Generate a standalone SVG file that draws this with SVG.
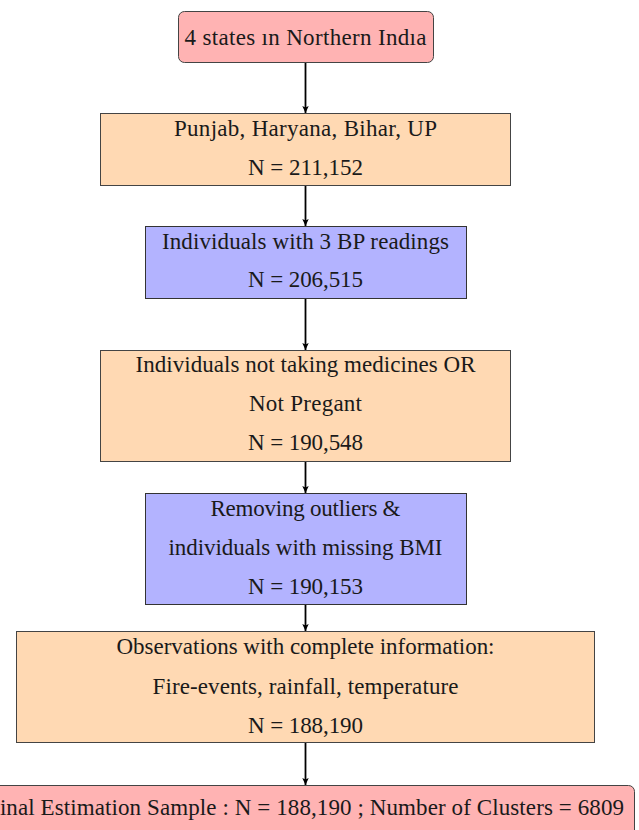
<svg xmlns="http://www.w3.org/2000/svg" width="639" height="830" viewBox="0 0 639 830">
<defs>
<marker id="arr" markerWidth="8" markerHeight="8" refX="7" refY="4" orient="auto" markerUnits="userSpaceOnUse">
<path d="M0,0.8 L7,4 L0,7.2 L1.5,4 z" fill="#000"/>
</marker>
<style>
.t{font-size:23px;fill:#1a1a1a;text-anchor:middle}
.pink{fill:#FFB3B3;stroke:#444;stroke-width:1}
.peach{fill:#FFD9B3;stroke:#444;stroke-width:1}
.blue{fill:#B3B3FF;stroke:#333;stroke-width:1}
.c{stroke:#000;stroke-width:1.8;fill:none;marker-end:url(#arr)}
</style>
</defs>
<rect width="639" height="830" fill="#fff"/>
<g id="connectors">
<line class="c" x1="305.5" y1="62" x2="305.5" y2="113"/>
<line class="c" x1="305.5" y1="185" x2="305.5" y2="226"/>
<line class="c" x1="305.5" y1="298" x2="305.5" y2="350"/>
<line class="c" x1="305.5" y1="461" x2="305.5" y2="493"/>
<line class="c" x1="305.5" y1="604" x2="305.5" y2="631"/>
<line class="c" x1="305.5" y1="743" x2="305.5" y2="785"/>
</g>
<g font-family="Liberation Serif">
<g id="n1">
<rect class="pink" x="178.5" y="11.5" width="255" height="51" rx="6"/>
<text class="t" x="305.5" y="45" textLength="242" lengthAdjust="spacing">4 states ın Northern Indıa</text>
</g>
<g id="n2">
<rect class="peach" x="100.5" y="113.5" width="410" height="72"/>
<text class="t" x="305.5" y="136" textLength="263" lengthAdjust="spacing">Punjab, Haryana, Bihar, UP</text>
<text class="t" x="305.5" y="175" textLength="115" lengthAdjust="spacing">N = 211,152</text>
</g>
<g id="n3">
<rect class="blue" x="145.5" y="226.5" width="321" height="72"/>
<text class="t" x="305.5" y="248.5" textLength="287" lengthAdjust="spacing">Individuals with 3 BP readings</text>
<text class="t" x="305.5" y="287" textLength="115" lengthAdjust="spacing">N = 206,515</text>
</g>
<g id="n4">
<rect class="peach" x="100.5" y="350.5" width="410" height="111"/>
<text class="t" x="305.5" y="372" textLength="340" lengthAdjust="spacing">Individuals not taking medicines OR</text>
<text class="t" x="305.5" y="411" textLength="113" lengthAdjust="spacing">Not Pregant</text>
<text class="t" x="305.5" y="450" textLength="115" lengthAdjust="spacing">N = 190,548</text>
</g>
<g id="n5">
<rect class="blue" x="145.5" y="493.5" width="321" height="111"/>
<text class="t" x="305.5" y="516" textLength="190" lengthAdjust="spacing">Removing outliers &amp;</text>
<text class="t" x="305.5" y="555" textLength="274" lengthAdjust="spacing">individuals with missing BMI</text>
<text class="t" x="305.5" y="594" textLength="115" lengthAdjust="spacing">N = 190,153</text>
</g>
<g id="n6">
<rect class="peach" x="16.5" y="631.5" width="578" height="111"/>
<text class="t" x="305.5" y="654" textLength="378" lengthAdjust="spacing">Observations with complete information:</text>
<text class="t" x="305.5" y="694" textLength="306" lengthAdjust="spacing">Fire-events, rainfall, temperature</text>
<text class="t" x="305.5" y="733" textLength="115" lengthAdjust="spacing">N = 188,190</text>
</g>
<g id="n7">
<rect class="pink" x="-23.5" y="785.5" width="658" height="60" rx="6"/>
<text class="t" x="305.5" y="815" textLength="637" lengthAdjust="spacing">Final Estimation Sample : N = 188,190 ; Number of Clusters = 6809</text>
</g>
</g>
</svg>
